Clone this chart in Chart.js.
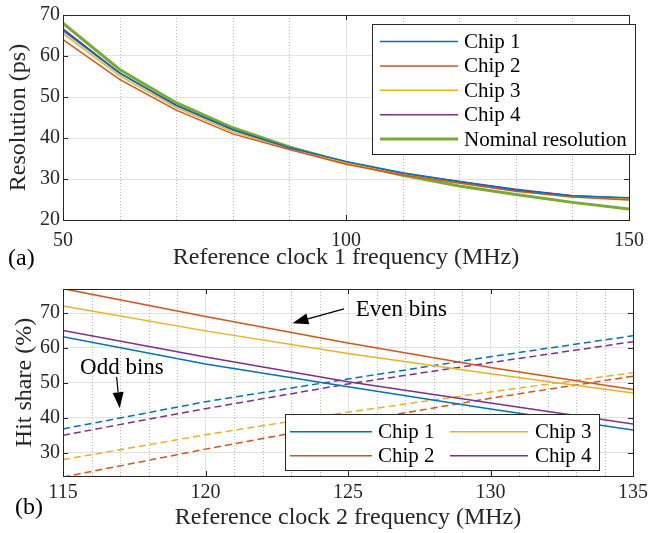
<!DOCTYPE html>
<html>
<head>
<meta charset="utf-8">
<script src="https://cdn.jsdelivr.net/npm/chart.js@4.4.0/dist/chart.umd.min.js"></script>
<style>
  body { margin: 0; background: #fff; }
  #wrap { position: relative; width: 653px; height: 533px; }
  #top { position: absolute; left: 0; top: 0; }
  #bottom { position: absolute; left: 0; top: 266px; }
</style>
</head>
<body>
<div id="wrap">
  <canvas id="top" width="653" height="270"></canvas>
  <canvas id="bottom" width="653" height="267"></canvas>
</div>
<script>
// (a) resolution vs reference clock 1
var freq1 = [50, 60, 70, 80, 90, 100, 110, 120, 130, 140, 150];
var chip1Res = [66.2, 55.8, 47.9, 42.0, 37.6, 34.3, 31.5, 29.4, 27.3, 25.9, 25.4];
var chip2Res = [64.0, 54.3, 46.8, 41.0, 37.2, 33.6, 31.0, 29.0, 27.0, 25.6, 24.9];
var chip3Res = [65.5, 55.2, 47.4, 41.5, 37.5, 33.9, 31.1, 29.0, 27.1, 25.7, 25.2];
var chip4Res = [66.6, 55.9, 48.0, 42.0, 37.6, 34.1, 31.3, 29.4, 27.5, 25.9, 25.3];
var nominalRes = [68.0, 56.7, 48.6, 42.5, 37.8, 34.0, 30.9, 28.3, 26.2, 24.3, 22.7];
var xTicks1 = [50, 100, 150];
var yTicks1 = [20, 30, 40, 50, 60, 70];

// (b) hit share vs reference clock 2
var freq2 = [115, 120, 125, 130, 135];
var chip1Even = [63.2, 55.4, 48.9, 42.5, 36.5];
var chip2Even = [77.0, 69.0, 61.4, 54.4, 48.1];
var chip3Even = [72.0, 64.9, 58.4, 52.6, 47.1];
var chip4Even = [65.0, 57.4, 50.3, 44.2, 38.2];
var chip1Odd = [36.8, 44.6, 51.1, 57.5, 63.5];
var chip2Odd = [23.0, 31.0, 38.6, 45.6, 51.9];
var chip3Odd = [28.0, 35.1, 41.6, 47.4, 52.9];
var chip4Odd = [35.0, 42.6, 49.7, 55.8, 61.8];
var xTicks2 = [115, 120, 125, 130, 135];
var yTicks2 = [30, 40, 50, 60, 70];

var chipNames = ['Chip 1', 'Chip 2', 'Chip 3', 'Chip 4'];
var colors = ['#0072BD', '#D95319', '#EDB120', '#7E2F8E', '#77AC30'];

var FONT = '"Liberation Serif", "Times New Roman", serif';
var INK = '#262626';
Chart.defaults.font.family = FONT;
Chart.defaults.color = INK;

function pts(xs, ys) {
  return xs.map(function (x, i) { return { x: x, y: ys[i] }; });
}

function line(label, xs, ys, color, width, dash, inLegend) {
  return {
    label: label, data: pts(xs, ys), borderColor: color, backgroundColor: color,
    borderWidth: width, borderDash: dash || [], pointRadius: 0, tension: 0,
    inLegend: inLegend
  };
}

function setTicks(list) {
  return function (scale) {
    scale.ticks = list.map(function (v) { return { value: v }; });
  };
}

function arrow(ctx, x1, y1, x2, y2) {
  var ang = Math.atan2(y2 - y1, x2 - x1), L = 16, W = 5.5;
  var bx = x2 - L * Math.cos(ang), by = y2 - L * Math.sin(ang);
  ctx.beginPath(); ctx.moveTo(x1, y1); ctx.lineTo(bx, by); ctx.stroke();
  ctx.beginPath();
  ctx.moveTo(x2, y2);
  ctx.lineTo(bx + W * Math.sin(ang), by - W * Math.cos(ang));
  ctx.lineTo(bx - W * Math.sin(ang), by + W * Math.cos(ang));
  ctx.closePath(); ctx.fill();
}

// grid, inward ticks, box, legend, notes
function decor(cfg) {
  return {
    id: 'decor',
    beforeDatasetsDraw: function (chart) {
      var ctx = chart.ctx, a = chart.chartArea, xs = chart.scales.x;
      ctx.save();
      ctx.strokeStyle = '#b8b8b8'; ctx.lineWidth = 1; ctx.setLineDash([1, 2]);
      cfg.minorX.forEach(function (v) {
        var px = Math.round(xs.getPixelForValue(v)) + 0.5;
        ctx.beginPath(); ctx.moveTo(px, a.top); ctx.lineTo(px, a.bottom); ctx.stroke();
      });
      ctx.restore();
    },
    afterDatasetsDraw: function (chart) {
      var ctx = chart.ctx, a = chart.chartArea, xs = chart.scales.x, ys = chart.scales.y;
      ctx.save();
      ctx.strokeStyle = INK; ctx.lineWidth = 1;
      var T = 5;
      cfg.xt.forEach(function (v) {
        var px = Math.round(xs.getPixelForValue(v)) + 0.5;
        ctx.beginPath(); ctx.moveTo(px, a.bottom); ctx.lineTo(px, a.bottom - T);
        ctx.moveTo(px, a.top); ctx.lineTo(px, a.top + T); ctx.stroke();
      });
      cfg.yt.forEach(function (v) {
        var py = Math.round(ys.getPixelForValue(v)) + 0.5;
        ctx.beginPath(); ctx.moveTo(a.left, py); ctx.lineTo(a.left + T, py);
        ctx.moveTo(a.right, py); ctx.lineTo(a.right - T, py); ctx.stroke();
      });
      ctx.strokeRect(Math.round(a.left) + 0.5, Math.round(a.top) + 0.5,
        Math.round(a.right - a.left), Math.round(a.bottom - a.top));

      // legend
      var lg = cfg.legend;
      ctx.fillStyle = '#fff';
      ctx.fillRect(lg.box[0], lg.box[1], lg.box[2] - lg.box[0], lg.box[3] - lg.box[1]);
      ctx.strokeStyle = INK;
      ctx.strokeRect(lg.box[0] + 0.5, lg.box[1] + 0.5, lg.box[2] - lg.box[0], lg.box[3] - lg.box[1]);
      ctx.font = '21px ' + FONT; ctx.textBaseline = 'middle'; ctx.fillStyle = '#000';
      var items = chart.data.datasets.filter(function (d) { return d.inLegend; });
      items.forEach(function (d, i) {
        var col = Math.floor(i / lg.rows), row = i % lg.rows;
        var c = lg.cols[col], y = lg.y0 + row * lg.dy;
        ctx.strokeStyle = d.borderColor; ctx.lineWidth = d.borderWidth;
        ctx.beginPath(); ctx.moveTo(c[0], y); ctx.lineTo(c[1], y); ctx.stroke();
        ctx.fillText(d.label, c[2], y + 1);
      });

      // notes with arrows
      ctx.strokeStyle = '#000'; ctx.fillStyle = '#000'; ctx.lineWidth = 1.2;
      ctx.font = '23px ' + FONT;
      (cfg.notes || []).forEach(function (n) {
        ctx.fillText(n.text, xs.getPixelForValue(n.at[0]), ys.getPixelForValue(n.at[1]));
        arrow(ctx, xs.getPixelForValue(n.from[0]), ys.getPixelForValue(n.from[1]),
          xs.getPixelForValue(n.to[0]), ys.getPixelForValue(n.to[1]));
      });

      ctx.font = '24px ' + FONT; ctx.fillStyle = '#000';
      ctx.fillText(cfg.panel[0], cfg.panel[1], cfg.panel[2]);
      ctx.restore();
    }
  };
}

function axes(xmin, xmax, xt, ymin, ymax, yt, xTitle, yTitle, xh, xPad, xTitlePad, yTitlePad) {
  return {
    x: {
      type: 'linear', min: xmin, max: xmax,
      afterBuildTicks: setTicks(xt),
      afterFit: function (s) { s.height = xh; },
      grid: { color: '#e3e3e3', drawTicks: false },
      border: { display: false },
      ticks: { font: { size: 20 }, padding: xPad, maxRotation: 0, color: INK },
      title: { display: true, text: xTitle, font: { size: 24, lineHeight: 1 }, padding: { top: 0, bottom: xTitlePad }, color: INK }
    },
    y: {
      type: 'linear', min: ymin, max: ymax,
      afterBuildTicks: setTicks(yt),
      afterFit: function (s) { s.width = 63; },
      grid: { color: '#e3e3e3', drawTicks: false },
      border: { display: false },
      ticks: { font: { size: 20 }, padding: 3, color: INK },
      title: { display: true, text: yTitle, font: { size: 24, lineHeight: 1 }, padding: { top: yTitlePad, bottom: 0 }, color: INK }
    }
  };
}

var topChart = new Chart(document.getElementById('top'), {
  type: 'line',
  data: {
    datasets: [
      line(chipNames[0], freq1, chip1Res, colors[0], 1.5, null, true),
      line(chipNames[1], freq1, chip2Res, colors[1], 1.5, null, true),
      line(chipNames[2], freq1, chip3Res, colors[2], 1.5, null, true),
      line(chipNames[3], freq1, chip4Res, colors[3], 1.5, null, true),
      line('Nominal resolution', freq1, nominalRes, colors[4], 3, null, true)
    ]
  },
  options: {
    responsive: false, animation: false, devicePixelRatio: 1,
    layout: { padding: { left: 0, right: 18, top: 14, bottom: 0 } },
    plugins: { legend: { display: false }, tooltip: { enabled: false } },
    scales: axes(50, 150, xTicks1, 20, 70, yTicks1,
      'Reference clock 1 frequency (MHz)', 'Resolution (ps)', 50, 9, 0, 7)
  },
  plugins: [decor({
    minorX: [60, 70, 80, 90, 110, 120, 130, 140],
    xt: [100], yt: [30, 40, 50, 60],
    legend: { box: [372, 24, 635, 154], rows: 5, y0: 41.5, dy: 24.4, cols: [[380, 458, 464]] },
    panel: ['(a)', 8, 259]
  })]
});

var bottomChart = new Chart(document.getElementById('bottom'), {
  type: 'line',
  data: {
    datasets: [
      line(chipNames[0], freq2, chip1Even, colors[0], 1.5, null, true),
      line(chipNames[1], freq2, chip2Even, colors[1], 1.5, null, true),
      line(chipNames[2], freq2, chip3Even, colors[2], 1.5, null, true),
      line(chipNames[3], freq2, chip4Even, colors[3], 1.5, null, true),
      line(chipNames[0] + ' odd', freq2, chip1Odd, colors[0], 1.5, [7, 4], false),
      line(chipNames[1] + ' odd', freq2, chip2Odd, colors[1], 1.5, [7, 4], false),
      line(chipNames[2] + ' odd', freq2, chip3Odd, colors[2], 1.5, [7, 4], false),
      line(chipNames[3] + ' odd', freq2, chip4Odd, colors[3], 1.5, [7, 4], false)
    ]
  },
  options: {
    responsive: false, animation: false, devicePixelRatio: 1,
    layout: { padding: { left: 0, right: 18, top: 23, bottom: 0 } },
    plugins: { legend: { display: false }, tooltip: { enabled: false } },
    scales: axes(115, 135, xTicks2, 23.3, 76.9, yTicks2,
      'Reference clock 2 frequency (MHz)', 'Hit share (%)', 57, 5, 3, 13)
  },
  plugins: [decor({
    minorX: [116, 117, 118, 119, 121, 122, 123, 124, 126, 127, 128, 129, 131, 132, 133, 134],
    xt: [120, 125, 130], yt: [30, 40, 50, 60, 70],
    legend: { box: [285, 148, 599, 204], rows: 2, y0: 165.7, dy: 24, cols: [[290, 372, 378], [450, 528, 535]] },
    notes: [
      { text: 'Even bins', at: [125.27, 70.9], from: [124.86, 71.2], to: [123.05, 67.1] },
      { text: 'Odd bins', at: [115.6, 54.2], from: [116.88, 51.7], to: [116.99, 42.7] }
    ],
    panel: ['(b)', 15, 242]
  })]
});
</script>
</body>
</html>
